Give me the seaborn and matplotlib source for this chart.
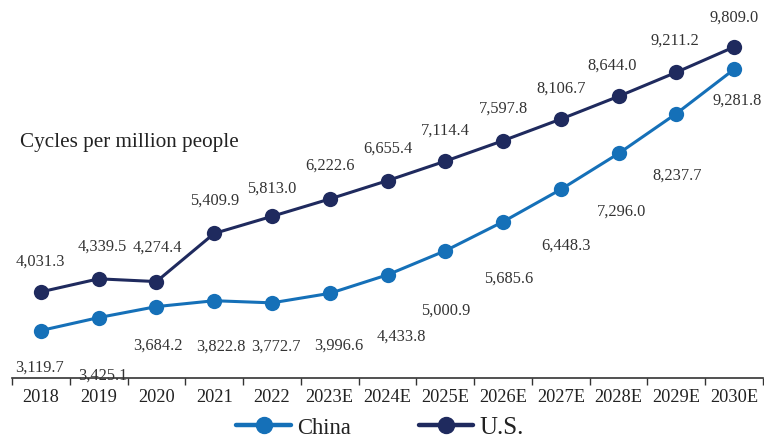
import matplotlib
matplotlib.use("Agg")
import matplotlib.pyplot as plt
import seaborn as sns
import pandas as pd
import numpy as np
from matplotlib.lines import Line2D

years = ["2018", "2019", "2020", "2021", "2022", "2023E", "2024E", "2025E",
         "2026E", "2027E", "2028E", "2029E", "2030E"]
china = [3119.7, 3425.1, 3684.2, 3822.8, 3772.7, 3996.6, 4433.8, 5000.9,
         5685.6, 6448.3, 7296.0, 8237.7, 9281.8]
us = [4031.3, 4339.5, 4274.4, 5409.9, 5813.0, 6222.6, 6655.4, 7114.4,
      7597.8, 8106.7, 8644.0, 9211.2, 9809.0]
series_names = ["China", "U.S."]
title_text = "Cycles per million people"

# label placement (pixel offsets from the point: dx, dy downward)
china_off = [(-1, 36), (4, 57), (1, 38), (7, 45), (4, 43), (9, 51), (14, 61),
             (0, 59), (6, 56), (5, 55), (3, 57), (1, 61), (3, 30)]
us_off = [(-1, -31), (4, -33), (1, -35), (0, -34), (0, -29), (0, -34), (0, -33),
          (0, -32), (0, -33), (0, -31), (-6, -32), (-1, -33), (0, -30)]

sns.set_theme(style="white")
plt.rcParams["font.family"] = ["Liberation Serif", "DejaVu Serif"]

colors = {"China": "#1570b8", "U.S.": "#1f2a5e"}

df = pd.DataFrame({
    "x": list(range(len(years))) * 2,
    "value": china + us,
    "series": [series_names[0]] * len(years) + [series_names[1]] * len(years),
})

fig = plt.figure(figsize=(7.64, 4.39), dpi=100)
ax = fig.add_axes([12 / 764, 1 - 379 / 439, 751 / 764, 379 / 439])

sns.lineplot(data=df, x="x", y="value", hue="series", hue_order=series_names,
             palette=colors, marker="o", markersize=11, linewidth=2.2,
             markeredgewidth=0, ax=ax, legend=False)

for i, v in enumerate(china):
    dx, dy = china_off[i]
    ax.annotate(f"{v:,.1f}", (i, v), xytext=(dx, -dy), textcoords="offset pixels",
                ha="center", va="center", fontsize=11.8, color="#333333")
for i, v in enumerate(us):
    dx, dy = us_off[i]
    ax.annotate(f"{v:,.1f}", (i, v), xytext=(dx, -dy), textcoords="offset pixels",
                ha="center", va="center", fontsize=11.8, color="#333333")

ax.set_xlim(-0.5, len(years) - 0.5)
ax.set_ylim(2000, 10940)
ax.set_xticks(range(len(years)))
ax.set_xticklabels(years, fontsize=13.2, color="#222222")
ax.set_xticks(np.arange(-0.5, len(years), 1.0), minor=True)
ax.tick_params(axis="x", which="major", length=0, pad=7)
ax.tick_params(axis="x", which="minor", length=5, width=1, color="#333333",
               direction="out", bottom=True)
ax.set_yticks([])
ax.set_xlabel("")
ax.set_ylabel("")
for s in ["top", "right", "left"]:
    ax.spines[s].set_visible(False)
ax.spines["bottom"].set_color("#333333")
ax.spines["bottom"].set_linewidth(1.2)

fig.text(20 / 764, 1 - 143 / 439, title_text, fontsize=15.2, color="#222222",
         ha="left", va="center")

handles = [Line2D([], [], color=colors[n], marker="o", markersize=11.5, linewidth=3.2)
           for n in series_names]
leg = fig.legend(handles, series_names, loc="center",
                 bbox_to_anchor=(380 / 764, 1 - 428 / 439),
                 ncol=2, frameon=False, fontsize=16.3, handlelength=2.4,
                 columnspacing=3.0, handletextpad=0.27)
leg.get_texts()[1].set_fontsize(18)
for t in leg.get_texts():
    t.set_color("#222222")

fig.savefig("out.png", dpi=100)
